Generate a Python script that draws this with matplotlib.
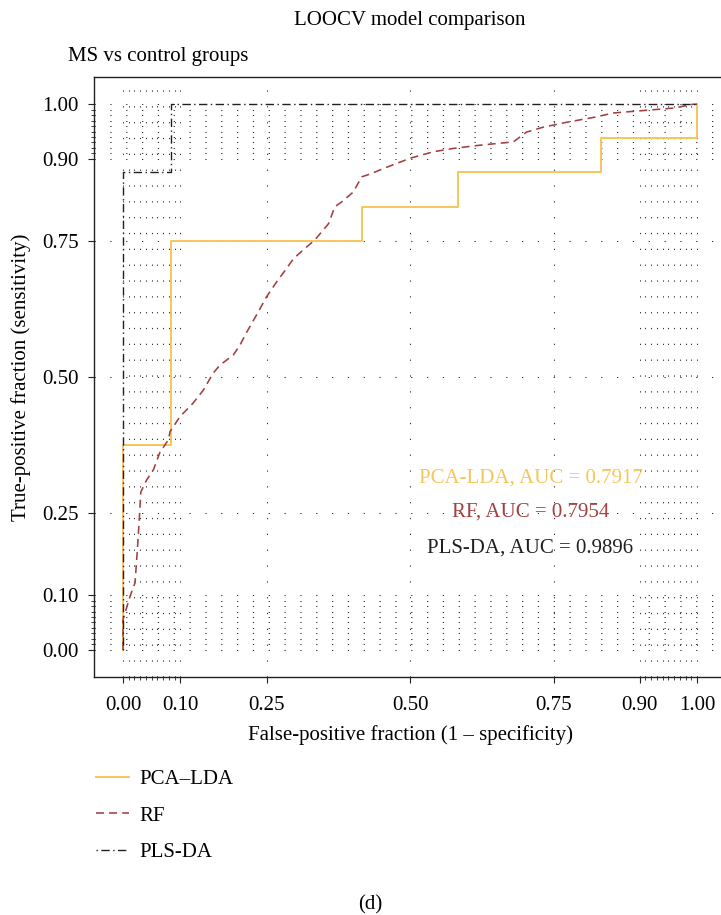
import numpy as np
import matplotlib.pyplot as plt

plt.rcParams['font.family'] = ['Liberation Serif', 'DejaVu Serif']

# ROC coordinates (false-positive fraction, true-positive fraction)
pca_fpr = [0.0, 0.0, 0.0833, 0.4167, 0.5833, 0.8333, 1.0, 1.0]
pca_tpr = [0.0, 0.375, 0.75, 0.8125, 0.875, 0.9375, 0.9375, 1.0]

rf_fpr = [0, 0.000, 0.012, 0.021, 0.025, 0.028, 0.031, 0.041, 0.053, 0.064,
          0.079, 0.082, 0.099, 0.122, 0.140, 0.157, 0.169, 0.192, 0.204, 0.216,
          0.236, 0.250, 0.268, 0.285, 0.297, 0.314, 0.334, 0.358, 0.369, 0.381,
          0.401, 0.416, 0.433, 0.453, 0.483, 0.500, 0.541, 0.575, 0.622, 0.680,
          0.703, 0.732, 0.773, 0.825, 0.854, 0.912, 0.959, 0.993, 1.0]
rf_tpr = [0, 0.055, 0.097, 0.123, 0.183, 0.233, 0.289, 0.311, 0.330, 0.361,
          0.385, 0.400, 0.427, 0.452, 0.476, 0.507, 0.522, 0.540, 0.559, 0.583,
          0.620, 0.647, 0.675, 0.699, 0.717, 0.733, 0.751, 0.781, 0.812, 0.821,
          0.839, 0.867, 0.873, 0.882, 0.894, 0.901, 0.913, 0.919, 0.925, 0.931,
          0.949, 0.958, 0.967, 0.977, 0.984, 0.989, 0.993, 1.0, 1.0]

pls_fpr = [0.0, 0.0, 0.0833, 1.0]
pls_tpr = [0.0, 0.875, 1.0, 1.0]

labels = ["PCA\u2013LDA", "RF", "PLS-DA"]
auc = [0.7917, 0.7954, 0.9896]
auc_names = ["PCA-LDA", "RF", "PLS-DA"]
colors = ["#F5C65A", "#A2403F", "#231F20"]

major = [0, 0.1, 0.25, 0.5, 0.75, 0.9, 1.0]
minor = [0.01, 0.02, 0.03, 0.04, 0.05, 0.06, 0.07, 0.08, 0.09,
         0.91, 0.92, 0.93, 0.94, 0.95, 0.96, 0.97, 0.98, 0.99]
tick_text = ["0.00", "0.10", "0.25", "0.50", "0.75", "0.90", "1.00"]

FS = 15

fig = plt.figure(figsize=(7.21, 9.15), dpi=100)
W, H = 721, 915
ax = fig.add_axes([94.3 / W, 1 - 677 / H, 631.4 / W, 600 / H])

grid_style = dict(color="#333333", lw=0.75, linestyle=(0, (1.2, 14)), zorder=0)
for v in major + minor:
    ax.axvline(v, **grid_style)
    ax.axhline(v, **grid_style)

ax.plot(pca_fpr, pca_tpr, drawstyle="steps-post", color=colors[0], lw=1.4,
        label=labels[0])
ax.plot(rf_fpr, rf_tpr, color=colors[1], lw=1.15, linestyle=(0, (5, 3.2)),
        label=labels[1])
ax.plot(pls_fpr, pls_tpr, drawstyle="steps-post", color=colors[2], lw=1.0,
        linestyle=(0, (1, 2.5, 6, 2.5)), label=labels[2])

ax.set_xlim(-0.05, 1.05)
ax.set_ylim(-0.05, 1.05)
ax.set_xticks(major)
ax.set_xticklabels(tick_text)
ax.set_yticks(major)
ax.set_yticklabels(tick_text)
ax.set_xticks(minor, minor=True)
ax.set_yticks(minor, minor=True)
ax.tick_params(which="major", length=4, width=0.8, labelsize=FS, color="#222222")
ax.tick_params(axis="x", which="major", pad=10)
ax.tick_params(axis="y", which="major", pad=7)
ax.tick_params(which="minor", length=2, width=0.6, color="#222222")
for s in ax.spines.values():
    s.set_linewidth(1.0)
    s.set_color("#222222")

ax.set_xlabel("False-positive fraction (1 \u2013 specificity)", fontsize=FS,
              labelpad=7)
ax.set_ylabel("True-positive fraction (sensitivity)", fontsize=FS, labelpad=8)

# AUC annotations
for i, yy in enumerate([0.315, 0.253, 0.187]):
    ax.text(0.71, yy, f"{auc_names[i]}, AUC = {auc[i]:.4f}", color=colors[i],
            fontsize=FS, ha="center", va="center")

fig.text(410 / W, 1 - 20 / H, "LOOCV model comparison", fontsize=FS,
         ha="center", va="center")
fig.text(68 / W, 1 - 57 / H, "MS vs control groups", fontsize=FS,
         ha="left", va="center")

handles = ax.get_lines()[-3:]
fig.legend(handles, labels, loc="upper left",
           bbox_to_anchor=(77 / W, 1 - 751 / H), frameon=False,
           fontsize=FS, handlelength=1.6, handletextpad=0.5,
           labelspacing=0.8)

fig.text(370 / W, 1 - 905 / H, "(d)", fontsize=FS, ha="center", va="center")

fig.savefig("out.png", dpi=100)
